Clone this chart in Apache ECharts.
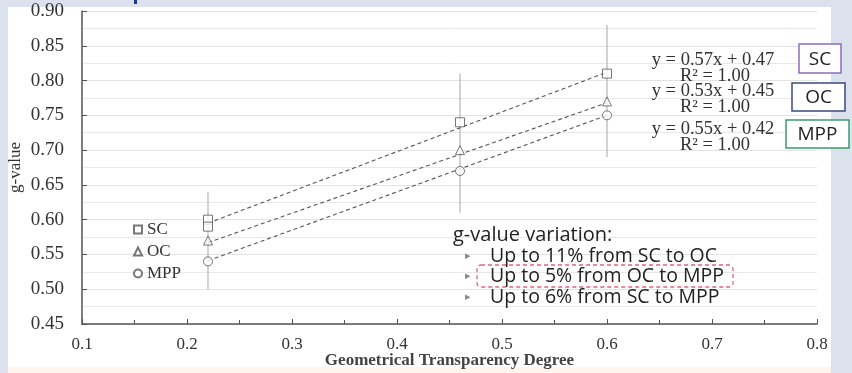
<!DOCTYPE html>
<html><head><meta charset="utf-8">
<script src="https://cdn.jsdelivr.net/npm/echarts@6/dist/echarts.min.js"></script>
<style>html,body{margin:0;padding:0;background:#fff;}#c{width:852px;height:373px;}</style>
</head><body><div id="c"></div>
<script>
// ---- data ----
const seriesNames = ['SC', 'OC', 'MPP'];
const scX = [0.22, 0.22, 0.46, 0.60];
const scY = [0.60, 0.59, 0.74, 0.81];
const ocX = [0.22, 0.46, 0.60];
const ocY = [0.57, 0.70, 0.77];
const mppX = [0.22, 0.46, 0.60];
const mppY = [0.54, 0.67, 0.75];
const errX = [0.22, 0.46, 0.60];
const errLow = [0.50, 0.61, 0.69];
const errHigh = [0.64, 0.81, 0.88];
const trendX = [0.22, 0.60];
const scTrend = [0.595, 0.812];
const ocTrend = [0.567, 0.768];
const mppTrend = [0.541, 0.750];
const equations = ['y = 0.57x + 0.47', 'y = 0.53x + 0.45', 'y = 0.55x + 0.42'];
const r2Labels = ['R\u00b2 = 1.00', 'R\u00b2 = 1.00', 'R\u00b2 = 1.00'];
const variationTitle = 'g-value variation:';
const variationLines = ['Up to 11% from SC to OC', 'Up to 5% from OC to MPP', 'Up to 6% from SC to MPP'];
const xName = 'Geometrical Transparency Degree';
const yName = 'g-value';

const zip = (xs, ys) => xs.map((x, i) => [x, ys[i]]);
const serif = '"Liberation Serif","Times New Roman",serif';
const sans = '"Open Sans","Noto Sans",sans-serif';
const markStyle = {color: '#fff', borderColor: '#555', borderWidth: 1};

const chart = echarts.init(document.getElementById('c'), null, {renderer: 'canvas'});

const trendSeries = (data) => ({
  type: 'line', data: data, symbol: 'none', silent: true, z: 3,
  lineStyle: {color: '#555', width: 1.1, type: [4, 3]}
});
const scatterSeries = (name, data, symbol) => ({
  name: name, type: 'scatter', data: data, symbol: symbol, symbolSize: 9, z: 5,
  itemStyle: markStyle
});

const eqX = 713;
const eqY = [60, 91, 129];
const graphics = [
  {type: 'rect', shape: {x: 0, y: 0, width: 8, height: 373}, style: {fill: '#dbe2ed'}, z: 0, silent: true},
  {type: 'rect', shape: {x: 0, y: 0, width: 852, height: 7}, style: {fill: '#dbe2ed'}, z: 0, silent: true},
  {type: 'rect', shape: {x: 831, y: 0, width: 21, height: 373}, style: {fill: '#dbe2ed'}, z: 0, silent: true},
  {type: 'rect', shape: {x: 8, y: 367, width: 823, height: 6}, style: {fill: '#fdf5ee'}, z: 0, silent: true},
  {type: 'rect', shape: {x: 134, y: 0, width: 3, height: 4}, style: {fill: '#1f3a8f'}, z: 1, silent: true},
];
equations.forEach((t, i) => {
  graphics.push({type: 'text', x: eqX, y: eqY[i], z: 10, style: {text: t, font: '18.5px ' + serif, fill: '#333', align: 'center', verticalAlign: 'middle'}});
  graphics.push({type: 'text', x: eqX + 2, y: eqY[i] + 16, z: 10, style: {text: r2Labels[i], font: '18.5px ' + serif, fill: '#333', align: 'center', verticalAlign: 'middle'}});
});
const boxes = [
  {x: 799, y: 44, w: 42, h: 29, c: '#8f6bbf'},
  {x: 792, y: 83, w: 53, h: 28, c: '#3d4a7e'},
  {x: 786, y: 120, w: 63, h: 28, c: '#3c9a6c'}
];
boxes.forEach((b, i) => {
  graphics.push({type: 'rect', z: 10, shape: {x: b.x, y: b.y, width: b.w, height: b.h}, style: {fill: '#fff', stroke: b.c, lineWidth: 1.5}});
  graphics.push({type: 'text', z: 11, x: b.x + b.w / 2, y: b.y + b.h / 2 + 1, style: {text: seriesNames[i], font: '19px ' + sans, fill: '#222', align: 'center', verticalAlign: 'middle'}});
});
graphics.push({type: 'text', z: 10, x: 453, y: 235, style: {text: variationTitle, font: '20px ' + sans, fill: '#222', verticalAlign: 'middle'}});
const lineYs = [256, 276, 297];
variationLines.forEach((t, i) => {
  graphics.push({type: 'text', z: 10, x: 465, y: lineYs[i], style: {text: '\u25b8', font: '11px ' + sans, fill: '#888', verticalAlign: 'middle'}});
  graphics.push({type: 'text', z: 10, x: 490, y: lineYs[i], style: {text: t, font: '19.5px ' + sans, fill: '#222', verticalAlign: 'middle'}});
});
graphics.push({type: 'rect', z: 9, shape: {x: 477, y: 265, width: 256, height: 22, r: 4}, style: {fill: 'none', stroke: '#e06677', lineWidth: 1.3, lineDash: [4, 3]}});

chart.setOption({
  backgroundColor: '#fff',
  animation: false,
  grid: {left: 82, right: 35, top: 11, bottom: 49, containLabel: false, outerBoundsMode: 'none'},
  legend: {
    data: seriesNames, orient: 'vertical', left: 133, top: 221, itemGap: 5,
    itemWidth: 8, itemHeight: 8, padding: 0,
    textStyle: {fontFamily: serif, fontSize: 17, lineHeight: 16, color: '#333', padding: [0, 0, 0, 0]}
  },
  xAxis: {
    type: 'value', min: 0.1, max: 0.8, interval: 0.1,
    name: xName, nameLocation: 'middle', nameGap: 28, nameMoveOverlap: false,
    nameTextStyle: {fontFamily: serif, fontSize: 17, fontWeight: 'bold', color: '#444'},
    axisLine: {show: true, lineStyle: {color: '#555', width: 1.5}},
    axisTick: {show: true, inside: true, length: 5, lineStyle: {color: '#555'}},
    minorTick: {show: true, splitNumber: 2, length: 4, lineStyle: {color: '#555'}},
    axisLabel: {fontFamily: serif, fontSize: 17, color: '#333', margin: 12, formatter: v => v.toFixed(1)},
    splitLine: {show: false}
  },
  yAxis: {
    type: 'value', min: 0.45, max: 0.90, interval: 0.05,
    name: yName, nameLocation: 'middle', nameGap: 58, nameMoveOverlap: false,
    nameTextStyle: {fontFamily: serif, fontSize: 17, color: '#333'},
    axisLine: {show: true, lineStyle: {color: '#555', width: 1.5}},
    axisTick: {show: true, inside: true, length: 5, lineStyle: {color: '#555'}},
    axisLabel: {fontFamily: serif, fontSize: 19, color: '#333', margin: 18, formatter: v => v.toFixed(2)},
    splitLine: {show: true, lineStyle: {color: '#e3e3e3', width: 1}},
    minorTick: {show: false, splitNumber: 2},
    minorSplitLine: {show: true, lineStyle: {color: '#e8e8e8', width: 1}}
  },
  series: [
    {
      type: 'custom', silent: true, z: 2,
      data: errX.map((x, i) => [x, errLow[i], errHigh[i]]),
      renderItem: (params, api) => {
        const p1 = api.coord([api.value(0), api.value(1)]);
        const p2 = api.coord([api.value(0), api.value(2)]);
        return {type: 'line', shape: {x1: p1[0], y1: p1[1], x2: p2[0], y2: p2[1]}, style: {stroke: '#b5b5b5', lineWidth: 1.2}};
      }
    },
    trendSeries(zip(trendX, scTrend)),
    trendSeries(zip(trendX, ocTrend)),
    trendSeries(zip(trendX, mppTrend)),
    scatterSeries('SC', zip(scX, scY), 'rect'),
    scatterSeries('OC', zip(ocX, ocY), 'triangle'),
    scatterSeries('MPP', zip(mppX, mppY), 'circle')
  ],
  graphic: graphics
});
</script></body></html>
